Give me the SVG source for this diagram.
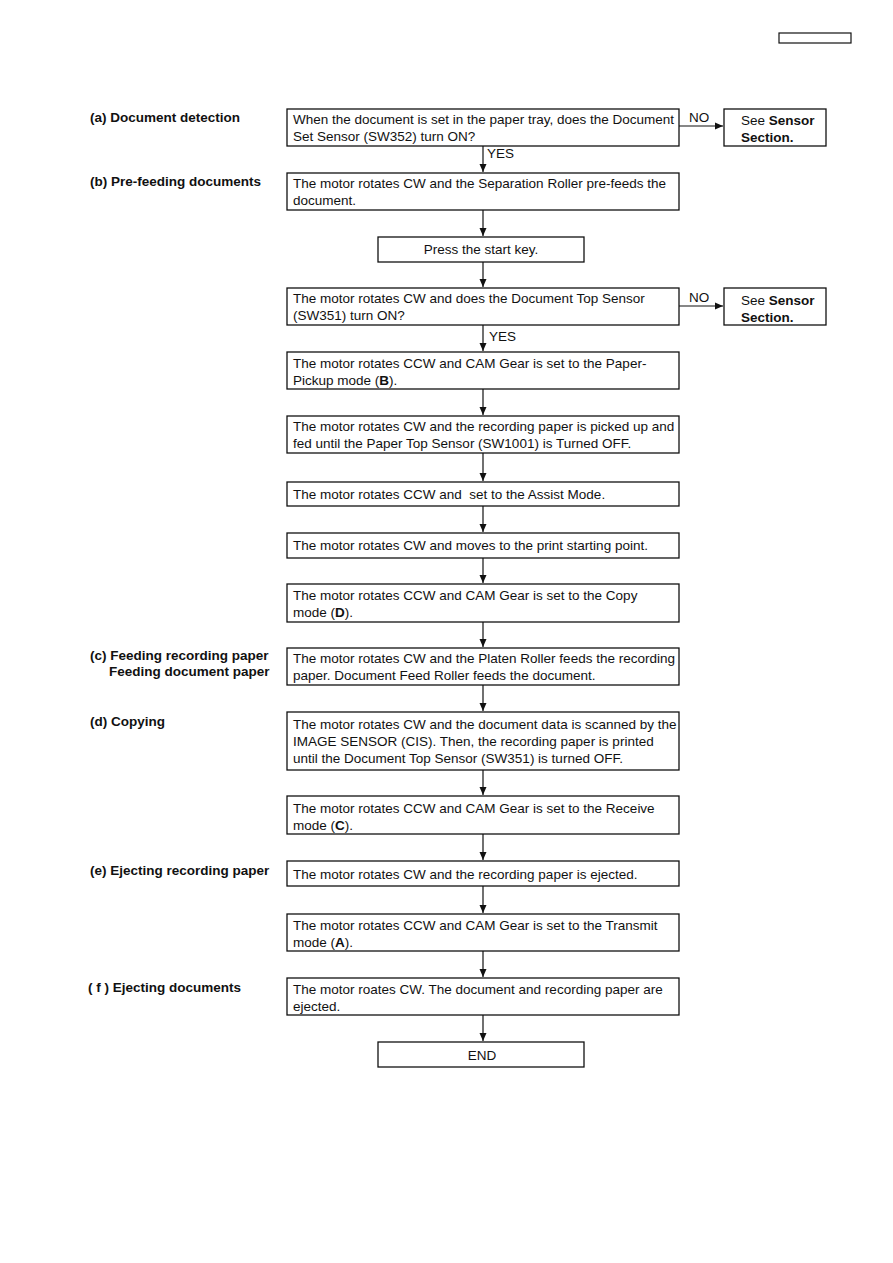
<svg xmlns="http://www.w3.org/2000/svg" width="893" height="1263" viewBox="0 0 893 1263">
<defs>
<marker id="ah" markerWidth="9" markerHeight="9" refX="8" refY="4.5" orient="auto" markerUnits="userSpaceOnUse">
<path d="M0,1 L8,4.5 L0,8 Z" fill="#111"/>
</marker>
<style>
.box{fill:#fff;stroke:#111;stroke-width:1.3}
.t{font-family:"Liberation Sans",Arial,sans-serif;font-size:13.5px;fill:#111}
.c{text-anchor:middle}
.lb{font-family:"Liberation Sans",Arial,sans-serif;font-size:13.5px;font-weight:bold;fill:#111}
.b{font-weight:bold}
.ln{stroke:#111;stroke-width:1.2;fill:none}
</style>
</defs>
<rect width="893" height="1263" fill="#fff"/>
<rect x="779" y="33" width="72" height="10" fill="none" stroke="#111" stroke-width="1.2"/>

<g id="labels">
<text class="lb" x="90" y="122">(a) Document detection</text>
<text class="lb" x="90" y="186">(b) Pre-feeding documents</text>
<text class="lb" x="90" y="660">(c) Feeding recording paper</text>
<text class="lb" x="109" y="676">Feeding document paper</text>
<text class="lb" x="90" y="726">(d) Copying</text>
<text class="lb" x="90" y="875">(e) Ejecting recording paper</text>
<text class="lb" x="88" y="992">( f ) Ejecting documents</text>
</g>

<g id="connectors">
<path class="ln" d="M483,146 V172" marker-end="url(#ah)"/>
<path class="ln" d="M483,210 V236" marker-end="url(#ah)"/>
<path class="ln" d="M483,262 V287" marker-end="url(#ah)"/>
<path class="ln" d="M483,325 V351" marker-end="url(#ah)"/>
<path class="ln" d="M483,389 V415" marker-end="url(#ah)"/>
<path class="ln" d="M483,453 V481" marker-end="url(#ah)"/>
<path class="ln" d="M483,506 V532" marker-end="url(#ah)"/>
<path class="ln" d="M483,558 V583" marker-end="url(#ah)"/>
<path class="ln" d="M483,622 V647" marker-end="url(#ah)"/>
<path class="ln" d="M483,685 V711" marker-end="url(#ah)"/>
<path class="ln" d="M483,770 V795" marker-end="url(#ah)"/>
<path class="ln" d="M483,834 V860" marker-end="url(#ah)"/>
<path class="ln" d="M483,886 V913" marker-end="url(#ah)"/>
<path class="ln" d="M483,951 V977" marker-end="url(#ah)"/>
<path class="ln" d="M483,1015 V1041" marker-end="url(#ah)"/>
<path class="ln" d="M679,126 H723" marker-end="url(#ah)"/>
<path class="ln" d="M679,306 H723" marker-end="url(#ah)"/>
<text class="t" x="689" y="122">NO</text>
<text class="t" x="689" y="302">NO</text>
<text class="t" x="487" y="158">YES</text>
<text class="t" x="489" y="341">YES</text>
</g>

<g id="n1"><rect class="box" x="287" y="109" width="392" height="37"/>
<text class="t" x="293" y="124">When the document is set in the paper tray, does the Document</text>
<text class="t" x="293" y="141">Set Sensor (SW352) turn ON?</text></g>

<g id="s1"><rect class="box" x="724" y="109" width="102" height="37"/>
<text class="t" x="741" y="125">See <tspan class="b">Sensor</tspan></text>
<text class="t b" x="741" y="142">Section.</text></g>

<g id="n2"><rect class="box" x="287" y="173" width="392" height="37"/>
<text class="t" x="293" y="188">The motor rotates CW and the Separation Roller pre-feeds the</text>
<text class="t" x="293" y="205">document.</text></g>

<g id="n3"><rect class="box" x="378" y="237" width="206" height="25"/>
<text class="t c" x="481" y="254">Press the start key.</text></g>

<g id="n4"><rect class="box" x="287" y="288" width="392" height="37"/>
<text class="t" x="293" y="303">The motor rotates CW and does the Document Top Sensor</text>
<text class="t" x="293" y="320">(SW351) turn ON?</text></g>

<g id="s2"><rect class="box" x="724" y="288" width="102" height="37"/>
<text class="t" x="741" y="305">See <tspan class="b">Sensor</tspan></text>
<text class="t b" x="741" y="322">Section.</text></g>

<g id="n5"><rect class="box" x="287" y="352" width="392" height="37"/>
<text class="t" x="293" y="368">The motor rotates CCW and CAM Gear is set to the Paper-</text>
<text class="t" x="293" y="385">Pickup mode (<tspan class="b">B</tspan>).</text></g>

<g id="n6"><rect class="box" x="287" y="416" width="392" height="37"/>
<text class="t" x="293" y="431">The motor rotates CW and the recording paper is picked up and</text>
<text class="t" x="293" y="448">fed until the Paper Top Sensor (SW1001) is Turned OFF.</text></g>

<g id="n7"><rect class="box" x="287" y="482" width="392" height="24"/>
<text class="t" x="293" y="499" xml:space="preserve">The motor rotates CCW and  set to the Assist Mode.</text></g>

<g id="n8"><rect class="box" x="287" y="533" width="392" height="25"/>
<text class="t" x="293" y="550">The motor rotates CW and moves to the print starting point.</text></g>

<g id="n9"><rect class="box" x="287" y="584" width="392" height="38"/>
<text class="t" x="293" y="600">The motor rotates CCW and CAM Gear is set to the Copy</text>
<text class="t" x="293" y="617">mode (<tspan class="b">D</tspan>).</text></g>

<g id="n10"><rect class="box" x="287" y="648" width="392" height="37"/>
<text class="t" x="293" y="663">The motor rotates CW and the Platen Roller feeds the recording</text>
<text class="t" x="293" y="680">paper. Document Feed Roller feeds the document.</text></g>

<g id="n11"><rect class="box" x="287" y="712" width="392" height="58"/>
<text class="t" x="293" y="729">The motor rotates CW and the document data is scanned by the</text>
<text class="t" x="293" y="746">IMAGE SENSOR (CIS). Then, the recording paper is printed</text>
<text class="t" x="293" y="763">until the Document Top Sensor (SW351) is turned OFF.</text></g>

<g id="n12"><rect class="box" x="287" y="796" width="392" height="38"/>
<text class="t" x="293" y="813">The motor rotates CCW and CAM Gear is set to the Receive</text>
<text class="t" x="293" y="830">mode (<tspan class="b">C</tspan>).</text></g>

<g id="n13"><rect class="box" x="287" y="861" width="392" height="25"/>
<text class="t" x="293" y="879">The motor rotates CW and the recording paper is ejected.</text></g>

<g id="n14"><rect class="box" x="287" y="914" width="392" height="37"/>
<text class="t" x="293" y="930">The motor rotates CCW and CAM Gear is set to the Transmit</text>
<text class="t" x="293" y="947">mode (<tspan class="b">A</tspan>).</text></g>

<g id="n15"><rect class="box" x="287" y="978" width="392" height="37"/>
<text class="t" x="293" y="994">The motor roates CW. The document and recording paper are</text>
<text class="t" x="293" y="1011">ejected.</text></g>

<g id="n16"><rect class="box" x="378" y="1042" width="206" height="25"/>
<text class="t c" x="482" y="1060">END</text></g>
</svg>
